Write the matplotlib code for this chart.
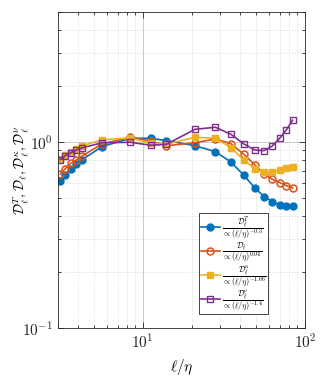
import numpy as np
import matplotlib
matplotlib.use("Agg")
import matplotlib.pyplot as plt
from matplotlib.ticker import FixedLocator, FixedFormatter, LogLocator, NullFormatter

plt.rcParams['mathtext.fontset'] = 'cm'

ell = [3.1, 3.33, 3.6, 3.9, 4.2, 5.6, 8.4, 11.2, 14, 21, 28, 35, 42, 49, 56, 63, 70, 77, 84]
D_T = [0.62, 0.667, 0.719, 0.759, 0.80, 0.944, 1.047, 1.047, 1.016, 0.955, 0.887, 0.78,
       0.662, 0.568, 0.508, 0.478, 0.457, 0.453, 0.453]
D_l = [0.673, 0.719, 0.768, 0.80, 0.838, 0.976, 1.06, 1.012, 0.955, 0.99, 1.038, 0.979,
       0.859, 0.755, 0.673, 0.63, 0.604, 0.582, 0.566]
D_k = [0.81, 0.85, 0.885, 0.92, 0.95, 1.029, 1.05, 0.984, 0.972, 1.06, 1.047, 0.932,
       0.80, 0.716, 0.687, 0.692, 0.705, 0.722, 0.734]
D_n = [0.803, 0.844, 0.876, 0.906, 0.928, 0.99, 0.996, 0.96, 0.972, 1.17, 1.20, 1.10,
       0.976, 0.906, 0.898, 0.952, 1.047, 1.164, 1.31]

labels = [r'$\dfrac{\mathcal{D}^T_\ell}{\propto(\ell/\eta)^{-0.3}}$',
          r'$\dfrac{\mathcal{D}_\ell}{\propto(\ell/\eta)^{0.04}}$',
          r'$\dfrac{\mathcal{D}^\kappa_\ell}{\propto(\ell/\eta)^{-1.66}}$',
          r'$\dfrac{\mathcal{D}^\nu_\ell}{\propto(\ell/\eta)^{-1.4}}$']
colors = ['#0072BD', '#D95319', '#EDB120', '#7E2F8E']

fig = plt.figure(figsize=(3.24, 3.76), dpi=100)
ax = fig.add_axes([0.179, 0.128, 0.762, 0.840])

ax.plot(ell, D_T, '-o', color=colors[0], mfc=colors[0], ms=5, lw=1.2, label=labels[0])
ax.plot(ell, D_l, '-o', color=colors[1], mfc='none', ms=5, mew=1.1, lw=1.2, label=labels[1])
ax.plot(ell, D_k, '-s', color=colors[2], mfc=colors[2], ms=4.5, lw=1.2, label=labels[2])
ax.plot(ell, D_n, '-s', color=colors[3], mfc='none', ms=4.5, mew=1.0, lw=1.2, label=labels[3])

ax.set_xscale('log')
ax.set_yscale('log')
ax.set_xlim(3, 100)
ax.set_ylim(0.1, 5)

ax.xaxis.set_major_locator(FixedLocator([10, 100]))
ax.xaxis.set_major_formatter(FixedFormatter([r'$\mathsf{10^{1}}$', r'$\mathsf{10^{2}}$']))
ax.yaxis.set_major_locator(FixedLocator([0.1, 1]))
ax.yaxis.set_major_formatter(FixedFormatter([r'$\mathsf{10^{-1}}$', r'$\mathsf{10^{0}}$']))
ax.xaxis.set_minor_locator(LogLocator(base=10, subs=np.arange(2, 10)))
ax.yaxis.set_minor_locator(LogLocator(base=10, subs=np.arange(2, 10)))
ax.xaxis.set_minor_formatter(NullFormatter())
ax.yaxis.set_minor_formatter(NullFormatter())

ax.tick_params(which='both', direction='in', top=True, right=True, colors='#262626',
               labelsize=11, width=0.6)
ax.tick_params(which='major', length=4)
ax.tick_params(which='minor', length=2.5)
for s in ax.spines.values():
    s.set_color('#262626')
    s.set_linewidth(0.6)

ax.grid(True, which='major', color='#9a9a9a', lw=0.6, alpha=0.6)
ax.grid(True, which='minor', color='#d0d0d0', lw=0.5, ls=(0, (2, 2)), alpha=0.8)
ax.set_axisbelow(True)

ax.set_xlabel(r'$\ell/\eta$', fontsize=11)
ax.set_ylabel(r'$\mathcal{D}^T_\ell,\mathcal{D}_\ell,\mathcal{D}^\kappa_\ell,\mathcal{D}^\nu_\ell$', fontsize=10)
ax.yaxis.set_label_coords(-0.11, 0.5)

leg = ax.legend(loc='lower right', bbox_to_anchor=(0.85, 0.045), fontsize=5.9,
                frameon=True, fancybox=False,
                edgecolor='#262626', framealpha=1, handlelength=2.3, borderpad=0.15,
                labelspacing=0.0, handletextpad=0.3, borderaxespad=0.0)
leg.get_frame().set_linewidth(0.6)

fig.savefig('out.png', dpi=100)
